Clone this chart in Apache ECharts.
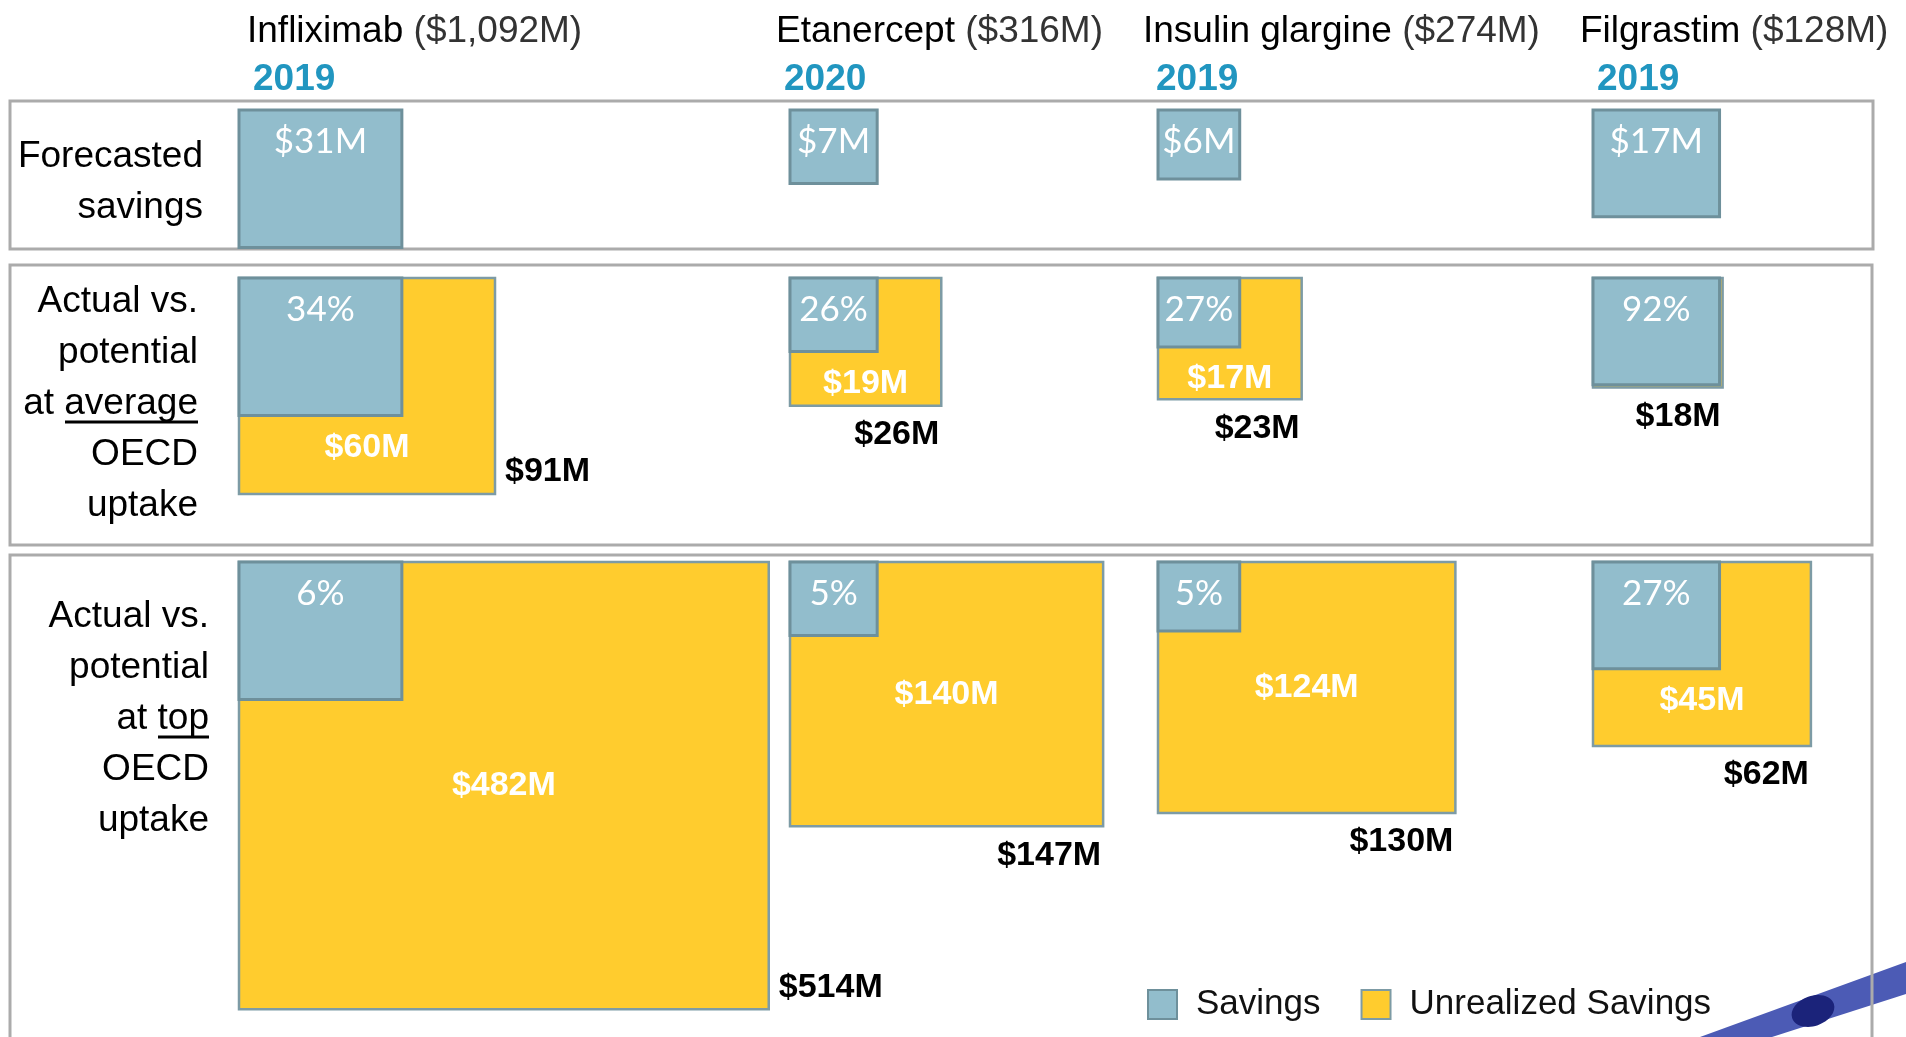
<!DOCTYPE html>
<html><head><meta charset="utf-8">
<script src="https://cdn.jsdelivr.net/npm/echarts@6/dist/echarts.min.js"></script>
<style>html,body{margin:0;padding:0;background:#fff;}#c{width:1906px;height:1037px;}</style>
</head><body><div id="c"></div>
<script>
// ---------------- data ----------------
const drugs = ['Infliximab', 'Etanercept', 'Insulin glargine', 'Filgrastim'];
const drugSpend = ['$1,092M', '$316M', '$274M', '$128M'];
const years = ['2019', '2020', '2019', '2019'];
const forecastSavings = [31, 7, 6, 17];          // $M, blue boxes
const potentialAvg = [91, 26, 23, 18];           // $M, at average OECD uptake
const unrealizedAvg = [60, 19, 17, null];        // $M
const pctAvg = [34, 26, 27, 92];                 // %
const potentialTop = [514, 147, 130, 62];        // $M, at top OECD uptake
const unrealizedTop = [482, 140, 124, 45];       // $M
const pctTop = [6, 5, 5, 27];                    // %
const rowLabels = ['Forecasted\nsavings', 'Actual vs.\npotential\nat average\nOECD\nuptake', 'Actual vs.\npotential\nat top\nOECD\nuptake'];
const legendNames = ['Savings', 'Unrealized Savings'];

// ---------------- layout / style ----------------
const COL_X = [239, 790, 1158, 1593];
const ROW_Y = [110, 278, 562];
const GRID_W = 560, GRID_H = 470;
const PX_X = 38.5, PX_Y = 32.5, EXP = 0.42;   // power scale for box sides
const TOTAL_SIDE = ['right', 'below', 'below', 'below'];
const BLUE = '#92BDCC', BLUE_BORDER = '#6E909B', YELLOW = '#FFCC2E', YELLOW_BORDER = '#7D9BA5';
const FONT = '"Liberation Sans", Arial, sans-serif';
const LFONT = 'Lato, "Liberation Sans", sans-serif';

function sideOf(v) { return Math.pow(v, EXP); }
function boxFrom(api, v) {
  const s = sideOf(v);
  const a = api.coord([0, 0]), b = api.coord([s, s]);
  return { x: a[0], y: a[1], w: b[0] - a[0], h: b[1] - a[1] };
}
function makeOuter(col) {
  return function (params, api) {
    const pot = api.value(0), sav = api.value(1), unr = api.value(2);
    const o = boxFrom(api, pot), i = boxFrom(api, sav);
    const ch = [{ type: 'rect', shape: { x: o.x, y: o.y, width: o.w, height: o.h },
      style: { fill: YELLOW, stroke: YELLOW_BORDER, lineWidth: 2.5 } }];
    if (unr != null && !isNaN(unr)) {
      const cy = Math.max(o.y + o.h / 2, i.y + i.h + 32);
      ch.push({ type: 'text', x: o.x + o.w / 2, y: cy, z2: 10,
        style: { text: '$' + unr + 'M', fill: '#fff', fontSize: 34, fontWeight: 'bold', fontFamily: FONT, align: 'center', verticalAlign: 'middle' } });
    }
    const tl = { text: '$' + pot + 'M', fill: '#000', fontSize: 34, fontWeight: 'bold', fontFamily: FONT, verticalAlign: 'middle' };
    if (TOTAL_SIDE[col] === 'right') {
      tl.align = 'left';
      ch.push({ type: 'text', x: o.x + o.w + 10, y: o.y + o.h - 22, z2: 10, style: tl });
    } else {
      tl.align = 'right';
      ch.push({ type: 'text', x: o.x + o.w - 2, y: o.y + o.h + 29, z2: 10, style: tl });
    }
    return { type: 'group', children: ch };
  };
}
function makeInner(row) {
  return function (params, api) {
    const sav = api.value(0), lab = api.value(1);
    const i = boxFrom(api, sav);
    const txt = row === 0 ? '$' + lab + 'M' : lab + '%';
    return { type: 'group', children: [
      { type: 'rect', shape: { x: i.x, y: i.y, width: i.w, height: i.h },
        style: { fill: BLUE, stroke: BLUE_BORDER, lineWidth: 3 } },
      { type: 'text', x: i.x + i.w / 2, y: i.y + 32, z2: 10,
        style: { text: txt, fill: '#fff', fontSize: 35, fontFamily: LFONT, align: 'center', verticalAlign: 'middle' } }
    ] };
  };
}

const grids = [], xAxes = [], yAxes = [], series = [];
const totals = [null, potentialAvg, potentialTop];
const unreal = [null, unrealizedAvg, unrealizedTop];
const labs = [forecastSavings, pctAvg, pctTop];
for (let r = 0; r < 3; r++) {
  for (let c = 0; c < 4; c++) {
    const gi = grids.length;
    const gw = Math.min(GRID_W, 1900 - COL_X[c]);
    const gh = Math.min(GRID_H, 1030 - ROW_Y[r]);
    grids.push({ left: COL_X[c], top: ROW_Y[r], width: gw, height: gh, show: false });
    xAxes.push({ type: 'value', gridIndex: gi, min: 0, max: gw / PX_X, show: false });
    yAxes.push({ type: 'value', gridIndex: gi, min: 0, max: gh / PX_Y, inverse: true, show: false });
    if (r > 0) {
      series.push({ type: 'custom', name: legendNames[1], xAxisIndex: gi, yAxisIndex: gi, z: 2,
        itemStyle: { color: YELLOW, borderColor: YELLOW_BORDER, borderWidth: 2.5 },
        data: [[totals[r][c], forecastSavings[c], unreal[r][c]]], renderItem: makeOuter(c) });
    }
    series.push({ type: 'custom', name: legendNames[0], xAxisIndex: gi, yAxisIndex: gi, z: 3,
      itemStyle: { color: BLUE, borderColor: BLUE_BORDER, borderWidth: 3 },
      data: [[forecastSavings[c], labs[r][c]]], renderItem: makeInner(r) });
  }
}

// ---------------- decorations & texts ----------------
const HEAD_X = [247, 776, 1143, 1580];
const YEAR_X = [253, 784, 1156, 1597];
const graphic = [];
// swoosh
graphic.push({ type: 'polygon', z: 0, shape: { points: [[1700, 1037], [1906, 962], [1906, 994], [1772, 1037]] }, style: { fill: '#4C5BB5' } });
graphic.push({ type: 'ellipse', z: 0, x: 1813, y: 1011, rotation: 0.33, shape: { cx: 0, cy: 0, rx: 22, ry: 15 }, style: { fill: '#1B237A' } });
// panels
[[10, 101, 1863, 148], [10, 265, 1862, 280], [10, 555, 1862, 520]].forEach(p => {
  graphic.push({ type: 'rect', z: 1, shape: { x: p[0], y: p[1], width: p[2], height: p[3] }, style: { fill: 'none', stroke: '#ABABAB', lineWidth: 3 } });
});
drugs.forEach((d, i) => {
  graphic.push({ type: 'text', x: HEAD_X[i], y: 32, style: {
    text: '{n|' + d + '}{p| (' + drugSpend[i] + ')}', verticalAlign: 'middle', align: 'left',
    rich: { n: { fontSize: 37, fontFamily: FONT, fill: '#000' }, p: { fontSize: 37, fontFamily: FONT, fill: '#333' } } } });
  graphic.push({ type: 'text', x: YEAR_X[i], y: 80, style: { text: years[i], fontSize: 37, fontWeight: 'bold', fontFamily: FONT, fill: '#2196C0', verticalAlign: 'middle' } });
});
const RL = [[203, 131], [198, 276.5], [209, 591.5]];
rowLabels.forEach((t, i) => {
  graphic.push({ type: 'text', x: RL[i][0], y: RL[i][1], style: { text: t, fontSize: 37, fontFamily: FONT, fill: '#000', align: 'right', verticalAlign: 'top', lineHeight: 51 } });
});
graphic.push({ type: 'line', shape: { x1: 65, y1: 422, x2: 198, y2: 422 }, style: { stroke: '#000', lineWidth: 3 } });
graphic.push({ type: 'line', shape: { x1: 158, y1: 737, x2: 209, y2: 737 }, style: { stroke: '#000', lineWidth: 3 } });

const chart = echarts.init(document.getElementById('c'), null, { renderer: 'canvas', width: 1906, height: 1037 });
chart.setOption({
  animation: false,
  backgroundColor: '#fff',
  grid: grids, xAxis: xAxes, yAxis: yAxes,
  legend: { data: legendNames, left: 1142, top: 982, itemWidth: 29, itemHeight: 29, itemGap: 40, icon: 'rect', selectedMode: false,
    textStyle: { fontSize: 35, fontFamily: FONT, color: '#111', padding: [0, 0, 0, 14] } },
  graphic: graphic,
  series: series
});
</script></body></html>
